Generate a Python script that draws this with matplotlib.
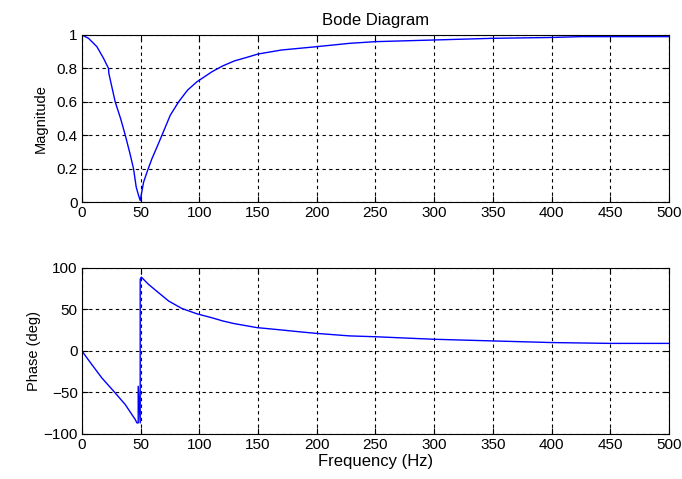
import numpy as np
import matplotlib.pyplot as plt

plt.rcParams['font.family'] = ['Liberation Sans', 'DejaVu Sans']

# values
mag_freq = [0, 5.7, 12.8, 18.5, 22.7, 23, 28.4, 33, 37, 41, 44, 46.3, 48.3, 49.7,
            52.6, 56, 59.7, 64, 68.2, 75.3, 82.4, 90, 98, 110.8, 120, 130, 140,
            150, 170, 200, 228, 250, 300, 350, 400, 425, 450, 500]
mag_vals = [1.0, 0.98, 0.93, 0.86, 0.80, 0.77, 0.60, 0.50, 0.40, 0.29, 0.20, 0.09,
            0.04, 0.01, 0.12, 0.19, 0.26, 0.33, 0.40, 0.52, 0.60, 0.67, 0.72, 0.78,
            0.815, 0.845, 0.865, 0.886, 0.91, 0.93, 0.95, 0.96, 0.97, 0.98, 0.985,
            0.99, 0.99, 0.99]

phase_freq = [0, 8.5, 17, 28.4, 37, 45.5, 46.9, 48, 48, 49.7, 49.7, 50.6, 56.8,
              65.3, 73.9, 85.2, 98, 110.8, 120, 129, 139, 149, 160, 171, 185, 200,
              228, 250, 299, 349, 400, 450, 500]
phase_vals = [0, -16.5, -32.5, -50.6, -64.7, -82.7, -86.7, -86.7, -42.6, -86.7,
              86, 88.8, 80, 70, 60, 51, 44.6, 39.8, 36, 33, 30.5, 28, 26.5, 25,
              23, 21, 18, 17, 14, 12, 10, 9, 9]

mag_ticks = [0, 0.2, 0.4, 0.6, 0.8, 1]
phase_ticks = [-100, -50, 0, 50, 100]
freq_ticks = [0, 50, 100, 150, 200, 250, 300, 350, 400, 450, 500]

fig = plt.figure(figsize=(6.82, 4.79), dpi=100)
ax1 = fig.add_axes([0.120, 0.578, 0.861, 0.349])
ax2 = fig.add_axes([0.120, 0.094, 0.861, 0.347])

ax1.plot(mag_freq, mag_vals, color='#0000ff', lw=1)
ax2.plot(phase_freq, phase_vals, color='#0000ff', lw=1)

ax1.set_ylim(0, 1)
ax1.set_yticks(mag_ticks)
ax1.set_yticklabels(['0', '0.2', '0.4', '0.6', '0.8', '1'])
ax1.set_ylabel('Magnitude', fontsize=10.5, labelpad=6)
ax1.set_title('Bode Diagram', fontsize=12, pad=7)

ax2.set_ylim(-100, 100)
ax2.set_yticks(phase_ticks)
ax2.set_ylabel('Phase (deg)', fontsize=10.5, labelpad=2)
ax2.set_xlabel('Frequency (Hz)', fontsize=12, labelpad=1)

for ax in (ax1, ax2):
    ax.set_xlim(0, 500)
    ax.set_xticks(freq_ticks)
    ax.grid(True, color='black', linestyle=(0, (3, 3)), linewidth=0.8)
    ax.tick_params(direction='in', length=4, labelsize=11, pad=3, top=True, right=True)
    for s in ax.spines.values():
        s.set_linewidth(0.8)

fig.savefig('out.png', dpi=100)
